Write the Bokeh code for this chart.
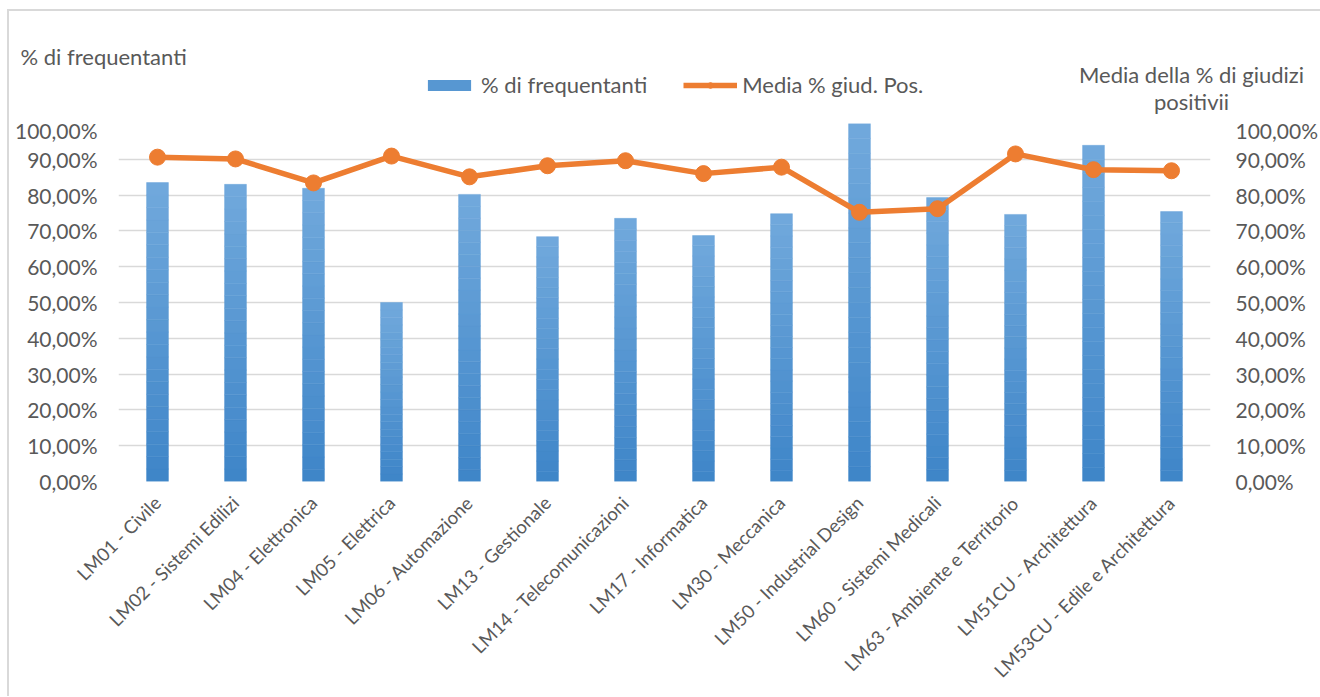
from bokeh.plotting import figure
from bokeh.layouts import column
from bokeh.models import (FactorRange, Range1d, LinearAxis, FixedTicker, CustomJSTickFormatter,
                          Legend, LegendItem, Label, ColumnDataSource)
from bokeh.embed import file_html
from bokeh.resources import INLINE
import math

categories = ["LM01 - Civile", "LM02 - Sistemi Edilizi", "LM04 - Elettronica", "LM05 - Elettrica",
              "LM06 - Automazione", "LM13 - Gestionale", "LM14 - Telecomunicazioni", "LM17 - Informatica",
              "LM30 - Meccanica", "LM50 - Industrial Design", "LM60 - Sistemi Medicali",
              "LM63 - Ambiente e Territorio", "LM51CU - Architettura", "LM53CU - Edile e Architettura"]
frequentanti = [83.5, 83.0, 81.9, 50.0, 80.2, 68.4, 73.5, 68.7, 74.8, 100.0, 79.3, 74.6, 93.9, 75.4]
media_giud_pos = [90.6, 90.1, 83.4, 90.9, 85.1, 88.2, 89.6, 86.0, 87.8, 75.2, 76.2, 91.5, 87.1, 86.8]
tick_values = [0, 10, 20, 30, 40, 50, 60, 70, 80, 90, 100]

FONT = "Lato"
GREY = "#595959"
BAR_TOP = (0x71, 0xa9, 0xdc)
BAR_BOT = (0x3e, 0x85, 0xc8)
ORANGE = "#ed7d31"

W = 1320
HT = 117          # header (titles + legend)
HB = 579          # chart
FRAME_W, FRAME_H = 1095, 358
LEFT = 118

# ---------------- header ----------------
top = figure(width=W, height=HT, x_range=Range1d(0, 1), y_range=Range1d(0, 1),
             x_axis_type=None, y_axis_type=None,
             output_backend="svg", toolbar_location=None,
             min_border_left=0, min_border_right=0, min_border_top=0, min_border_bottom=0)
aligned = "frame_align" in type(top).properties()
if aligned:
    top.frame_align = False
XOFF = 0 if aligned else LEFT
top.grid.visible = False
top.outline_line_color = None
top.background_fill_color = None
top.border_fill_color = None

# legend-only renderers (placed outside the visible range)
mid = tuple((a + b) // 2 for a, b in zip(BAR_TOP, BAR_BOT))
leg_bar = top.vbar(x=[-5], top=[-5], width=0.1, fill_color="#%02x%02x%02x" % mid, line_color=None)
leg_line = top.line(x=[-5, -4], y=[-5, -5], line_color=ORANGE, line_width=5.5)
leg_dot = top.scatter(x=[-5], y=[-5], size=16, fill_color=ORANGE, line_color=ORANGE)

legend = Legend(items=[LegendItem(label="% di frequentanti", renderers=[leg_bar]),
                       LegendItem(label="Media % giud. Pos.", renderers=[leg_line, leg_dot])],
                orientation="horizontal", location=(422 - XOFF, HT - 98),
                glyph_width=54, glyph_height=14, label_text_font=FONT,
                label_text_font_size="22px", label_text_color=GREY,
                background_fill_alpha=0, border_line_color=None, spacing=36,
                label_standoff=5, padding=0, margin=0)
top.add_layout(legend, "center")

top.add_layout(Label(x=20 - XOFF, y=HT - 56, x_units="screen", y_units="screen",
                     text="% di frequentanti",
                     text_font=FONT, text_font_size="22px", text_color=GREY,
                     text_baseline="alphabetic"))
top.add_layout(Label(x=1191 - XOFF, y=HT - 74, x_units="screen", y_units="screen",
                     text="Media della % di giudizi",
                     text_font=FONT, text_font_size="22px", text_color=GREY,
                     text_align="center", text_baseline="alphabetic"))
top.add_layout(Label(x=1191 - XOFF, y=HT - 101, x_units="screen", y_units="screen", text="positivii",
                     text_font=FONT, text_font_size="22px", text_color=GREY,
                     text_align="center", text_baseline="alphabetic"))

# ---------------- chart ----------------
p = figure(width=W, height=HB, x_range=FactorRange(*categories), y_range=Range1d(0, 100),
           output_backend="svg", toolbar_location=None,
           min_border_left=LEFT, min_border_right=W - LEFT - FRAME_W, min_border_top=123 - HT,
           min_border_bottom=HB - (123 - HT) - FRAME_H)
p.extra_y_ranges = {"right": Range1d(0, 100)}
p.outline_line_color = None
p.background_fill_color = None
p.border_fill_color = None

# gradient bars: stacked slices from dark (bottom) to light (top)
N = 24
for k in range(N):
    t = (k + 0.5) / N
    col = "#%02x%02x%02x" % tuple(int(round(a + (b - a) * t)) for a, b in zip(BAR_BOT, BAR_TOP))
    src = ColumnDataSource(dict(x=categories,
                                bottom=[v * k / N for v in frequentanti],
                                top=[v * (k + 1) / N for v in frequentanti]))
    p.vbar(x="x", bottom="bottom", top="top", width=0.28, source=src,
           fill_color=col, line_color=col, line_width=0.5)

p.line(categories, media_giud_pos, line_color=ORANGE, line_width=5.5,
       y_range_name="right", line_join="round")
p.scatter(categories, media_giud_pos, size=16, fill_color=ORANGE, line_color=ORANGE,
          y_range_name="right")

fmt = CustomJSTickFormatter(code="return tick.toFixed(2).replace('.', ',') + '%';")

yl = p.yaxis[0]
yl.ticker = FixedTicker(ticks=tick_values)
yl.formatter = fmt
yr = LinearAxis(y_range_name="right", ticker=FixedTicker(ticks=tick_values), formatter=fmt)
p.add_layout(yr, "right")
for ax in (yl, yr, p.xaxis[0]):
    ax.axis_line_color = None
    ax.major_tick_line_color = None
    ax.minor_tick_line_color = None
    ax.major_tick_out = 0
    ax.major_tick_in = 0
    ax.minor_tick_out = 0
    ax.minor_tick_in = 0
    ax.major_label_text_font = FONT
    ax.major_label_text_color = GREY
for ax in (yl, yr):
    ax.major_label_text_font_size = "21px"
yl.major_label_standoff = 21
yr.major_label_standoff = 25

xa = p.xaxis[0]
xa.major_label_orientation = math.pi / 4
xa.major_label_text_font_size = "18.5px"
xa.major_label_standoff = 18

p.xgrid.grid_line_color = None
p.ygrid.grid_line_color = "#d9d9d9"
p.ygrid.grid_line_width = 1.5
p.ygrid.ticker = FixedTicker(ticks=tick_values)

layout = column(top, p, spacing=0)
layout.styles = {"background": "linear-gradient(#d9d9d9,#d9d9d9) 7px 9px / 1400px 2px no-repeat, "
                               "linear-gradient(#d9d9d9,#d9d9d9) 7px 9px / 2px 800px no-repeat, white"}

open("out.html", "w").write(file_html(layout, INLINE))
